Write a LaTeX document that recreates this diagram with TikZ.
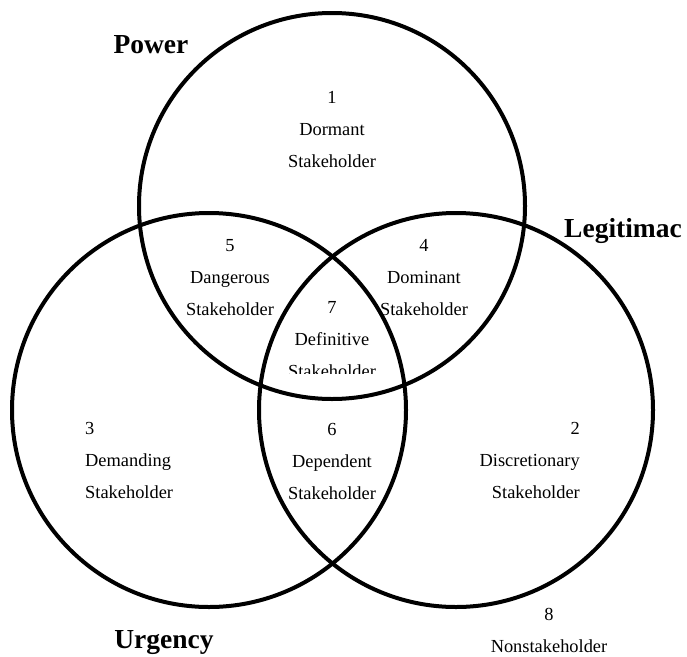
\documentclass[tikz,border=0pt]{standalone}
\usepackage{fontspec}
\setmainfont{Liberation Serif}
\usepackage{tikz}

\begin{document}
\begin{tikzpicture}[x=1pt, y=-1pt,
		ring/.style={line width=4pt},
		zone/.style={font=\fontsize{18.4}{31.6}\selectfont, align=center,
			anchor=base, inner sep=0pt},
		attr/.style={font=\fontsize{27.5}{30}\selectfont\bfseries,
			anchor=base, inner sep=0pt}]
		\useasboundingbox (0,0) rectangle (687,656);
		% the three circles: power (top), urgency (left), legitimacy (right)
		\draw[ring] (332,206) circle (193);
		\draw[ring] (209,410) circle (197);
		\draw[ring] (456,410) circle (197);
		% attribute labels
		\node[attr] (power) at (151,53) {Power};
		\node[attr, anchor=base west] (legit) at (564,237) {Legitimac};
		\node[attr] (urgency) at (164,648) {Urgency};
		% stakeholder classes (anchored on the last line)
		\node[zone] (dormant) at (332,167) {1\\Dormant\\Stakeholder};
		\node[zone] (dangerous) at (230,315) {5\\Dangerous\\Stakeholder};
		\node[zone] (dominant) at (424,315) {4\\Dominant\\Stakeholder};
		\node[zone, align=left, anchor=base west] (demanding) at (85,498)
		{3\\Demanding\\Stakeholder};
		\node[zone, align=right, anchor=base east] (discretionary) at (580,498)
		{2\\Discretionary\\Stakeholder};
		\node[zone] (dependent) at (332,499) {6\\Dependent\\Stakeholder};
		% definitive: last line cut off by its text box
		\begin{scope}
			\clip (250,280) rectangle (420,373);
			\node[zone] (definitive) at (332,377) {7\\Definitive\\Stakeholder};
		\end{scope}
		\node[zone] (nonstake) at (549,652) {8\\Nonstakeholder};
	\end{tikzpicture}
\end{document}
